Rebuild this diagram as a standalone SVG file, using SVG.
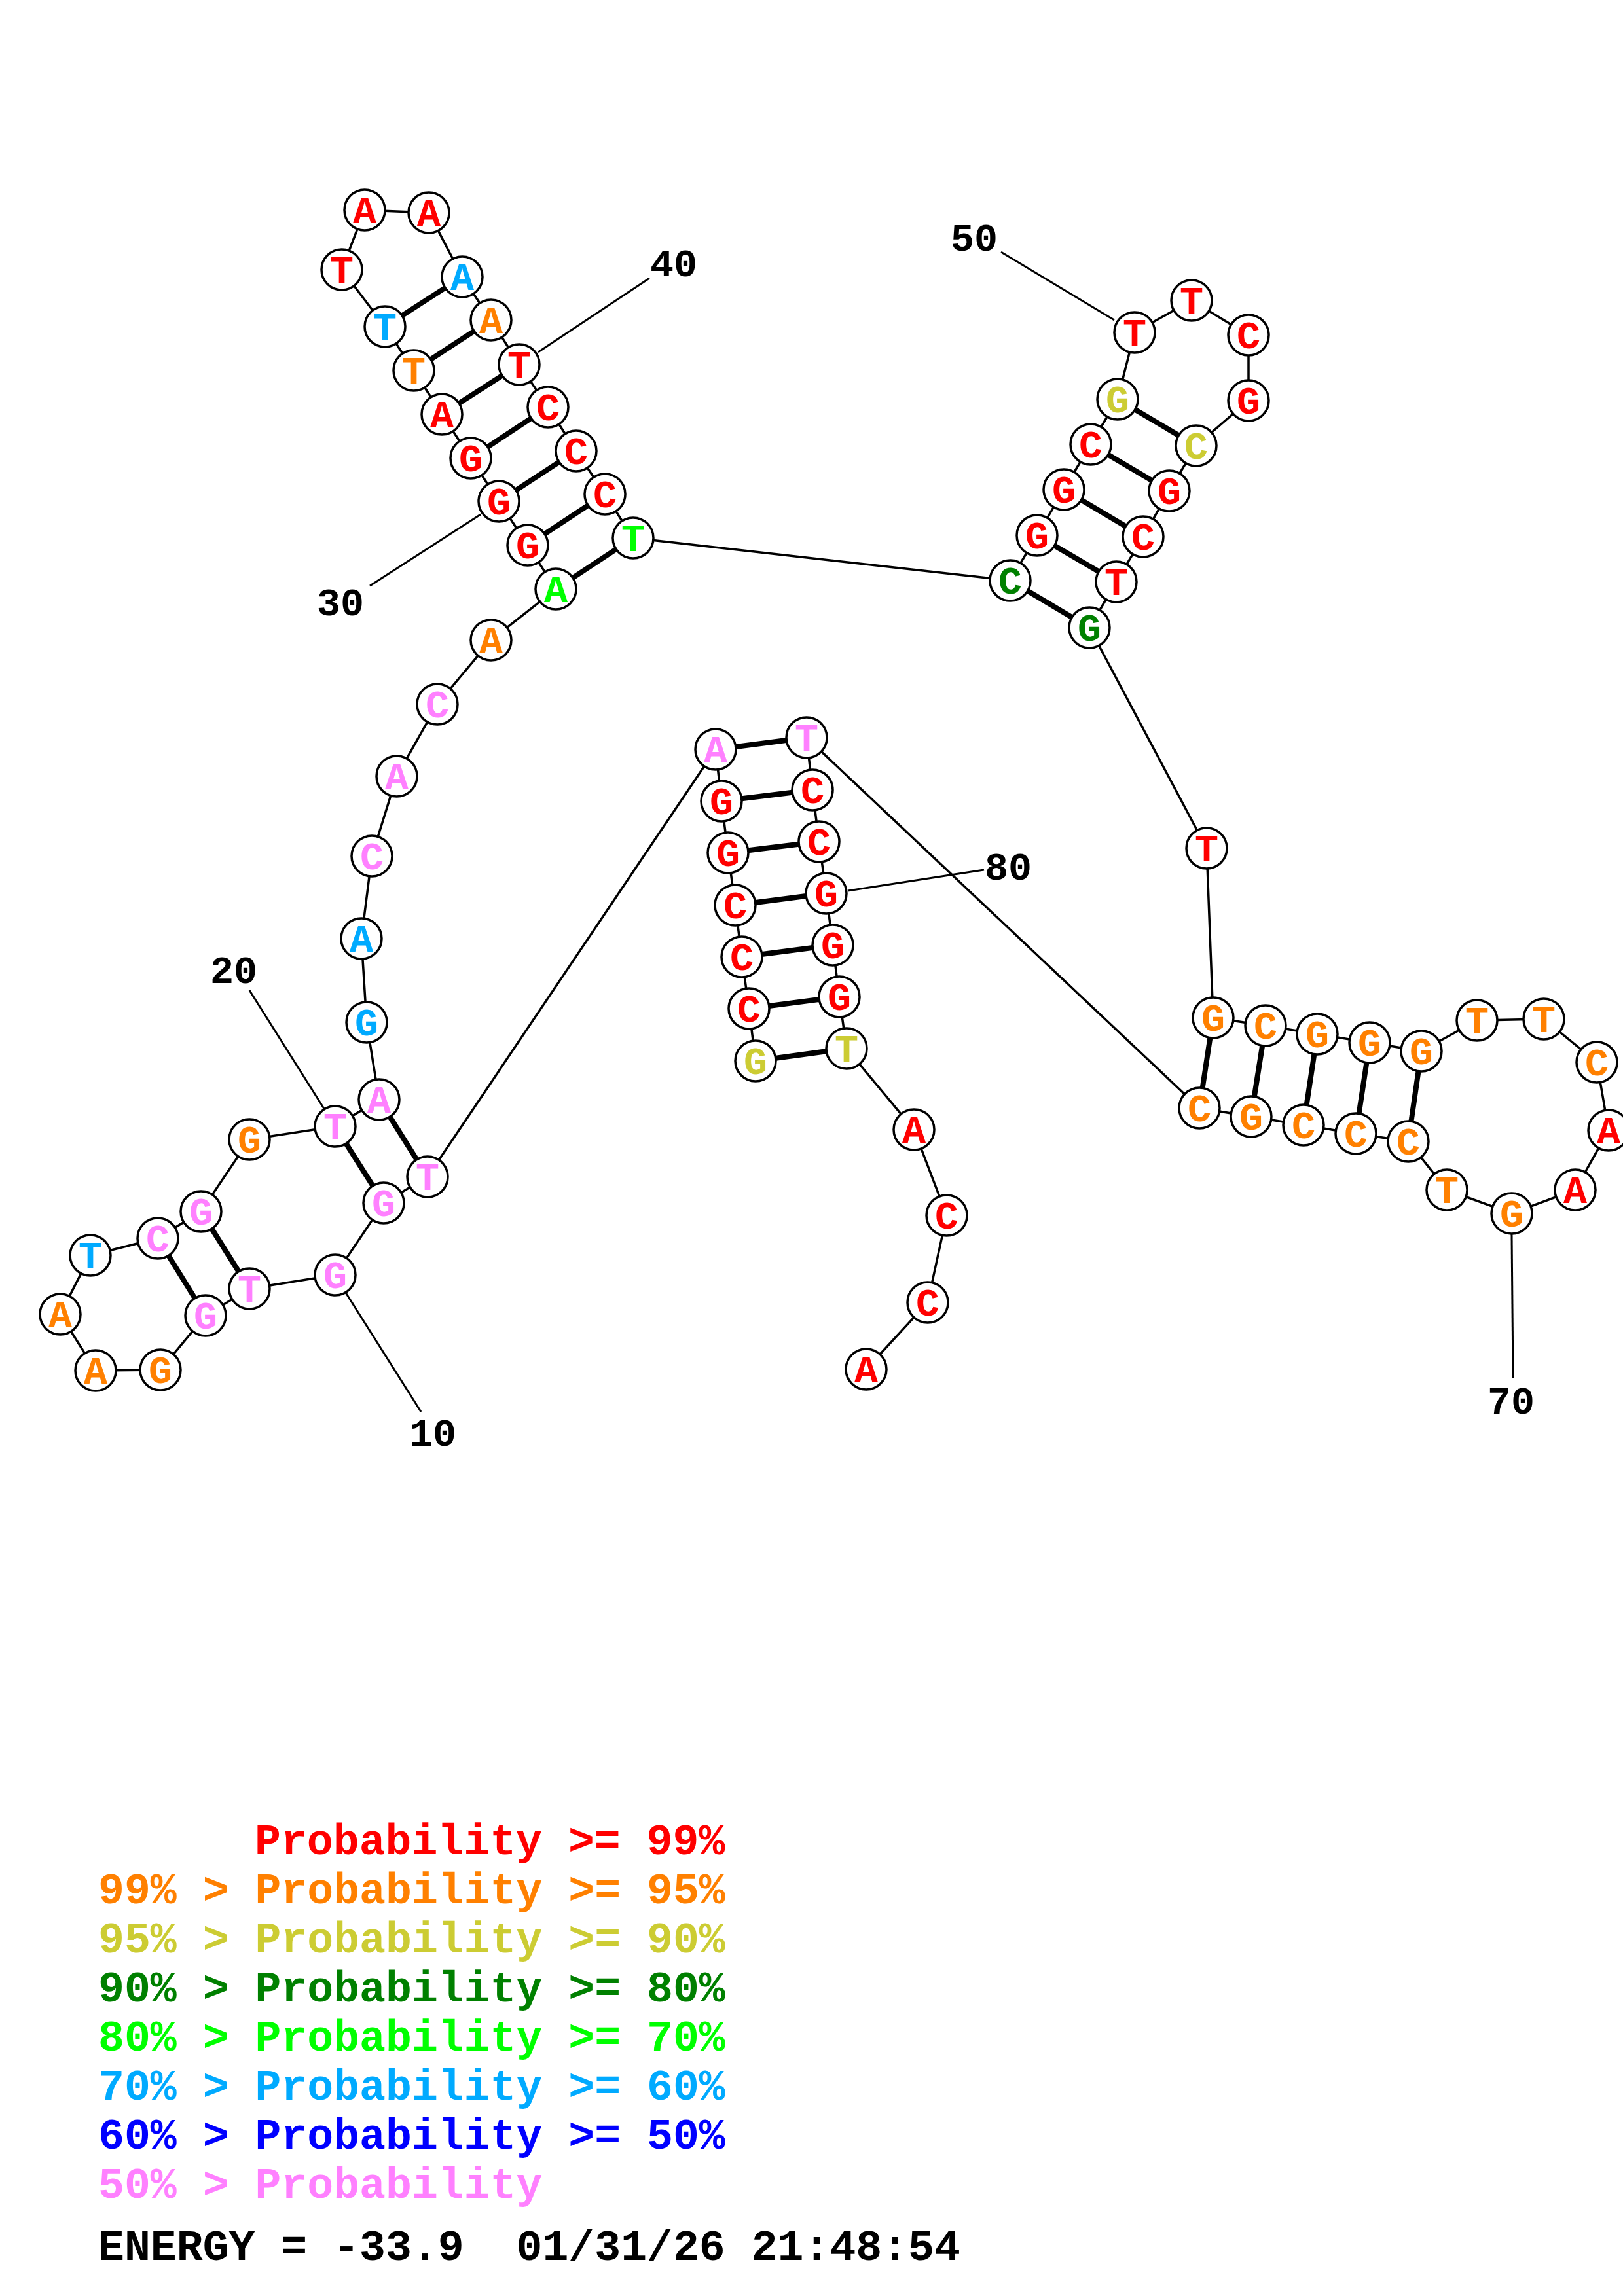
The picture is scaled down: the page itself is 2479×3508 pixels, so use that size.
<svg xmlns="http://www.w3.org/2000/svg" width="2479" height="3508" viewBox="0 0 2479 3508">
<style>
.bb{stroke:#000;stroke-width:3.5;fill:none}
.pr{stroke:#000;stroke-width:8;fill:none}
.tick{stroke:#000;stroke-width:3;fill:none}
.nd circle{fill:#fff;stroke:#000;stroke-width:3.5}
.nd text{font-family:"Liberation Mono","Courier New",monospace;font-weight:bold;font-size:60px;text-anchor:middle}
.num{font-family:"Liberation Mono","Courier New",monospace;font-weight:bold;font-size:60px;fill:#000}
.lg{font-family:"Liberation Mono","Courier New",monospace;font-weight:bold;font-size:66.5px;white-space:pre}
.r{fill:#FF0000}.o{fill:#FF8000}.y{fill:#CCCC33}.dg{fill:#008000}.g{fill:#00FF00}.lb{fill:#00AAFF}.b{fill:#0000FF}.p{fill:#FF80FF}.k{fill:#000}
</style>
<rect width="2479" height="3508" fill="#fff"/>
<g id="connectors">
<polyline class="bb" points="1154,1621 1144,1541 1133,1462 1123,1383 1112,1303 1102,1224 1093,1145 653,1798 586,1838 512,1948 381,1969 314,2010 245,2093 146,2094 92,2008 138,1918 241,1892 307,1851 381,1741 512,1721 579,1680 560,1562 552,1434 568,1308 606,1186 668,1076 750,978 849,900 806,833 762,766 719,700 675,633 632,566 588,499 522,412 557,321 655,325 706,423 750,489 793,557 837,622 880,689 924,755 967,822 1543,887 1584,818 1625,748 1666,679 1707,610 1733,508 1820,459 1907,512 1907,612 1827,681 1786,750 1746,820 1705,889 1664,959 1843,1296 1853,1555 1933,1567 2012,1580 2092,1593 2171,1606 2256,1559 2358,1557 2439,1623 2457,1727 2406,1818 2309,1854 2210,1818 2151,1744 2071,1732 1991,1719 1911,1706 1832,1693 1232,1127 1241,1207 1251,1286 1262,1365 1272,1444 1282,1523 1293,1602 1396,1726 1446,1857 1417,1990 1323,2092"/>
<line class="pr" x1="1154" y1="1621" x2="1293" y2="1602"/>
<line class="pr" x1="1144" y1="1541" x2="1282" y2="1523"/>
<line class="pr" x1="1133" y1="1462" x2="1272" y2="1444"/>
<line class="pr" x1="1123" y1="1383" x2="1262" y2="1365"/>
<line class="pr" x1="1112" y1="1303" x2="1251" y2="1286"/>
<line class="pr" x1="1102" y1="1224" x2="1241" y2="1207"/>
<line class="pr" x1="1093" y1="1145" x2="1232" y2="1127"/>
<line class="pr" x1="653" y1="1798" x2="579" y2="1680"/>
<line class="pr" x1="586" y1="1838" x2="512" y2="1721"/>
<line class="pr" x1="381" y1="1969" x2="307" y2="1851"/>
<line class="pr" x1="314" y1="2010" x2="241" y2="1892"/>
<line class="pr" x1="849" y1="900" x2="967" y2="822"/>
<line class="pr" x1="806" y1="833" x2="924" y2="755"/>
<line class="pr" x1="762" y1="766" x2="880" y2="689"/>
<line class="pr" x1="719" y1="700" x2="837" y2="622"/>
<line class="pr" x1="675" y1="633" x2="793" y2="557"/>
<line class="pr" x1="632" y1="566" x2="750" y2="489"/>
<line class="pr" x1="588" y1="499" x2="706" y2="423"/>
<line class="pr" x1="1543" y1="887" x2="1664" y2="959"/>
<line class="pr" x1="1584" y1="818" x2="1705" y2="889"/>
<line class="pr" x1="1625" y1="748" x2="1746" y2="820"/>
<line class="pr" x1="1666" y1="679" x2="1786" y2="750"/>
<line class="pr" x1="1707" y1="610" x2="1827" y2="681"/>
<line class="pr" x1="1853" y1="1555" x2="1832" y2="1693"/>
<line class="pr" x1="1933" y1="1567" x2="1911" y2="1706"/>
<line class="pr" x1="2012" y1="1580" x2="1991" y2="1719"/>
<line class="pr" x1="2092" y1="1593" x2="2071" y2="1732"/>
<line class="pr" x1="2171" y1="1606" x2="2151" y2="1744"/>
<line class="tick" x1="528" y1="1975" x2="643" y2="2157"/>
<line class="tick" x1="381" y1="1513" x2="495" y2="1694"/>
<line class="tick" x1="565" y1="895" x2="734" y2="786"/>
<line class="tick" x1="822" y1="538" x2="992" y2="425"/>
<line class="tick" x1="1529" y1="385" x2="1702" y2="489"/>
<line class="tick" x1="2309" y1="1885" x2="2311" y2="2106"/>
<line class="tick" x1="1295" y1="1361" x2="1503" y2="1329"/>
</g>
<g id="n1" class="nd"><circle cx="1154" cy="1621" r="31"/><text x="1154" y="1641" class="y">G</text></g>
<g id="n2" class="nd"><circle cx="1144" cy="1541" r="31"/><text x="1144" y="1561" class="r">C</text></g>
<g id="n3" class="nd"><circle cx="1133" cy="1462" r="31"/><text x="1133" y="1482" class="r">C</text></g>
<g id="n4" class="nd"><circle cx="1123" cy="1383" r="31"/><text x="1123" y="1403" class="r">C</text></g>
<g id="n5" class="nd"><circle cx="1112" cy="1303" r="31"/><text x="1112" y="1323" class="r">G</text></g>
<g id="n6" class="nd"><circle cx="1102" cy="1224" r="31"/><text x="1102" y="1244" class="r">G</text></g>
<g id="n7" class="nd"><circle cx="1093" cy="1145" r="31"/><text x="1093" y="1165" class="p">A</text></g>
<g id="n8" class="nd"><circle cx="653" cy="1798" r="31"/><text x="653" y="1818" class="p">T</text></g>
<g id="n9" class="nd"><circle cx="586" cy="1838" r="31"/><text x="586" y="1858" class="p">G</text></g>
<g id="n10" class="nd"><circle cx="512" cy="1948" r="31"/><text x="512" y="1968" class="p">G</text></g>
<g id="n11" class="nd"><circle cx="381" cy="1969" r="31"/><text x="381" y="1989" class="p">T</text></g>
<g id="n12" class="nd"><circle cx="314" cy="2010" r="31"/><text x="314" y="2030" class="p">G</text></g>
<g id="n13" class="nd"><circle cx="245" cy="2093" r="31"/><text x="245" y="2113" class="o">G</text></g>
<g id="n14" class="nd"><circle cx="146" cy="2094" r="31"/><text x="146" y="2114" class="o">A</text></g>
<g id="n15" class="nd"><circle cx="92" cy="2008" r="31"/><text x="92" y="2028" class="o">A</text></g>
<g id="n16" class="nd"><circle cx="138" cy="1918" r="31"/><text x="138" y="1938" class="lb">T</text></g>
<g id="n17" class="nd"><circle cx="241" cy="1892" r="31"/><text x="241" y="1912" class="p">C</text></g>
<g id="n18" class="nd"><circle cx="307" cy="1851" r="31"/><text x="307" y="1871" class="p">G</text></g>
<g id="n19" class="nd"><circle cx="381" cy="1741" r="31"/><text x="381" y="1761" class="o">G</text></g>
<g id="n20" class="nd"><circle cx="512" cy="1721" r="31"/><text x="512" y="1741" class="p">T</text></g>
<g id="n21" class="nd"><circle cx="579" cy="1680" r="31"/><text x="579" y="1700" class="p">A</text></g>
<g id="n22" class="nd"><circle cx="560" cy="1562" r="31"/><text x="560" y="1582" class="lb">G</text></g>
<g id="n23" class="nd"><circle cx="552" cy="1434" r="31"/><text x="552" y="1454" class="lb">A</text></g>
<g id="n24" class="nd"><circle cx="568" cy="1308" r="31"/><text x="568" y="1328" class="p">C</text></g>
<g id="n25" class="nd"><circle cx="606" cy="1186" r="31"/><text x="606" y="1206" class="p">A</text></g>
<g id="n26" class="nd"><circle cx="668" cy="1076" r="31"/><text x="668" y="1096" class="p">C</text></g>
<g id="n27" class="nd"><circle cx="750" cy="978" r="31"/><text x="750" y="998" class="o">A</text></g>
<g id="n28" class="nd"><circle cx="849" cy="900" r="31"/><text x="849" y="920" class="g">A</text></g>
<g id="n29" class="nd"><circle cx="806" cy="833" r="31"/><text x="806" y="853" class="r">G</text></g>
<g id="n30" class="nd"><circle cx="762" cy="766" r="31"/><text x="762" y="786" class="r">G</text></g>
<g id="n31" class="nd"><circle cx="719" cy="700" r="31"/><text x="719" y="720" class="r">G</text></g>
<g id="n32" class="nd"><circle cx="675" cy="633" r="31"/><text x="675" y="653" class="r">A</text></g>
<g id="n33" class="nd"><circle cx="632" cy="566" r="31"/><text x="632" y="586" class="o">T</text></g>
<g id="n34" class="nd"><circle cx="588" cy="499" r="31"/><text x="588" y="519" class="lb">T</text></g>
<g id="n35" class="nd"><circle cx="522" cy="412" r="31"/><text x="522" y="432" class="r">T</text></g>
<g id="n36" class="nd"><circle cx="557" cy="321" r="31"/><text x="557" y="341" class="r">A</text></g>
<g id="n37" class="nd"><circle cx="655" cy="325" r="31"/><text x="655" y="345" class="r">A</text></g>
<g id="n38" class="nd"><circle cx="706" cy="423" r="31"/><text x="706" y="443" class="lb">A</text></g>
<g id="n39" class="nd"><circle cx="750" cy="489" r="31"/><text x="750" y="509" class="o">A</text></g>
<g id="n40" class="nd"><circle cx="793" cy="557" r="31"/><text x="793" y="577" class="r">T</text></g>
<g id="n41" class="nd"><circle cx="837" cy="622" r="31"/><text x="837" y="642" class="r">C</text></g>
<g id="n42" class="nd"><circle cx="880" cy="689" r="31"/><text x="880" y="709" class="r">C</text></g>
<g id="n43" class="nd"><circle cx="924" cy="755" r="31"/><text x="924" y="775" class="r">C</text></g>
<g id="n44" class="nd"><circle cx="967" cy="822" r="31"/><text x="967" y="842" class="g">T</text></g>
<g id="n45" class="nd"><circle cx="1543" cy="887" r="31"/><text x="1543" y="907" class="dg">C</text></g>
<g id="n46" class="nd"><circle cx="1584" cy="818" r="31"/><text x="1584" y="838" class="r">G</text></g>
<g id="n47" class="nd"><circle cx="1625" cy="748" r="31"/><text x="1625" y="768" class="r">G</text></g>
<g id="n48" class="nd"><circle cx="1666" cy="679" r="31"/><text x="1666" y="699" class="r">C</text></g>
<g id="n49" class="nd"><circle cx="1707" cy="610" r="31"/><text x="1707" y="630" class="y">G</text></g>
<g id="n50" class="nd"><circle cx="1733" cy="508" r="31"/><text x="1733" y="528" class="r">T</text></g>
<g id="n51" class="nd"><circle cx="1820" cy="459" r="31"/><text x="1820" y="479" class="r">T</text></g>
<g id="n52" class="nd"><circle cx="1907" cy="512" r="31"/><text x="1907" y="532" class="r">C</text></g>
<g id="n53" class="nd"><circle cx="1907" cy="612" r="31"/><text x="1907" y="632" class="r">G</text></g>
<g id="n54" class="nd"><circle cx="1827" cy="681" r="31"/><text x="1827" y="701" class="y">C</text></g>
<g id="n55" class="nd"><circle cx="1786" cy="750" r="31"/><text x="1786" y="770" class="r">G</text></g>
<g id="n56" class="nd"><circle cx="1746" cy="820" r="31"/><text x="1746" y="840" class="r">C</text></g>
<g id="n57" class="nd"><circle cx="1705" cy="889" r="31"/><text x="1705" y="909" class="r">T</text></g>
<g id="n58" class="nd"><circle cx="1664" cy="959" r="31"/><text x="1664" y="979" class="dg">G</text></g>
<g id="n59" class="nd"><circle cx="1843" cy="1296" r="31"/><text x="1843" y="1316" class="r">T</text></g>
<g id="n60" class="nd"><circle cx="1853" cy="1555" r="31"/><text x="1853" y="1575" class="o">G</text></g>
<g id="n61" class="nd"><circle cx="1933" cy="1567" r="31"/><text x="1933" y="1587" class="o">C</text></g>
<g id="n62" class="nd"><circle cx="2012" cy="1580" r="31"/><text x="2012" y="1600" class="o">G</text></g>
<g id="n63" class="nd"><circle cx="2092" cy="1593" r="31"/><text x="2092" y="1613" class="o">G</text></g>
<g id="n64" class="nd"><circle cx="2171" cy="1606" r="31"/><text x="2171" y="1626" class="o">G</text></g>
<g id="n65" class="nd"><circle cx="2256" cy="1559" r="31"/><text x="2256" y="1579" class="o">T</text></g>
<g id="n66" class="nd"><circle cx="2358" cy="1557" r="31"/><text x="2358" y="1577" class="o">T</text></g>
<g id="n67" class="nd"><circle cx="2439" cy="1623" r="31"/><text x="2439" y="1643" class="o">C</text></g>
<g id="n68" class="nd"><circle cx="2457" cy="1727" r="31"/><text x="2457" y="1747" class="r">A</text></g>
<g id="n69" class="nd"><circle cx="2406" cy="1818" r="31"/><text x="2406" y="1838" class="r">A</text></g>
<g id="n70" class="nd"><circle cx="2309" cy="1854" r="31"/><text x="2309" y="1874" class="o">G</text></g>
<g id="n71" class="nd"><circle cx="2210" cy="1818" r="31"/><text x="2210" y="1838" class="o">T</text></g>
<g id="n72" class="nd"><circle cx="2151" cy="1744" r="31"/><text x="2151" y="1764" class="o">C</text></g>
<g id="n73" class="nd"><circle cx="2071" cy="1732" r="31"/><text x="2071" y="1752" class="o">C</text></g>
<g id="n74" class="nd"><circle cx="1991" cy="1719" r="31"/><text x="1991" y="1739" class="o">C</text></g>
<g id="n75" class="nd"><circle cx="1911" cy="1706" r="31"/><text x="1911" y="1726" class="o">G</text></g>
<g id="n76" class="nd"><circle cx="1832" cy="1693" r="31"/><text x="1832" y="1713" class="o">C</text></g>
<g id="n77" class="nd"><circle cx="1232" cy="1127" r="31"/><text x="1232" y="1147" class="p">T</text></g>
<g id="n78" class="nd"><circle cx="1241" cy="1207" r="31"/><text x="1241" y="1227" class="r">C</text></g>
<g id="n79" class="nd"><circle cx="1251" cy="1286" r="31"/><text x="1251" y="1306" class="r">C</text></g>
<g id="n80" class="nd"><circle cx="1262" cy="1365" r="31"/><text x="1262" y="1385" class="r">G</text></g>
<g id="n81" class="nd"><circle cx="1272" cy="1444" r="31"/><text x="1272" y="1464" class="r">G</text></g>
<g id="n82" class="nd"><circle cx="1282" cy="1523" r="31"/><text x="1282" y="1543" class="r">G</text></g>
<g id="n83" class="nd"><circle cx="1293" cy="1602" r="31"/><text x="1293" y="1622" class="y">T</text></g>
<g id="n84" class="nd"><circle cx="1396" cy="1726" r="31"/><text x="1396" y="1746" class="r">A</text></g>
<g id="n85" class="nd"><circle cx="1446" cy="1857" r="31"/><text x="1446" y="1877" class="r">C</text></g>
<g id="n86" class="nd"><circle cx="1417" cy="1990" r="31"/><text x="1417" y="2010" class="r">C</text></g>
<g id="n87" class="nd"><circle cx="1323" cy="2092" r="31"/><text x="1323" y="2112" class="r">A</text></g>
<g id="labels">
<text class="num" x="625" y="2209">10</text>
<text class="num" x="321" y="1502">20</text>
<text class="num" x="484" y="940">30</text>
<text class="num" x="993" y="422">40</text>
<text class="num" x="1452" y="383">50</text>
<text class="num" x="2272" y="2160">70</text>
<text class="num" x="1504" y="1344">80</text>
</g>
<g id="legend" class="lg">
<text x="389" y="2833" class="r">Probability &gt;= 99%</text>
<text x="150" y="2908" class="o">99% &gt; Probability &gt;= 95%</text>
<text x="150" y="2983" class="y">95% &gt; Probability &gt;= 90%</text>
<text x="150" y="3058" class="dg">90% &gt; Probability &gt;= 80%</text>
<text x="150" y="3133" class="g">80% &gt; Probability &gt;= 70%</text>
<text x="150" y="3208" class="lb">70% &gt; Probability &gt;= 60%</text>
<text x="150" y="3283" class="b">60% &gt; Probability &gt;= 50%</text>
<text x="150" y="3358" class="p">50% &gt; Probability</text>
<text x="150" y="3453" class="k" xml:space="preserve">ENERGY = -33.9  01/31/26 21:48:54</text>
</g>
</svg>
